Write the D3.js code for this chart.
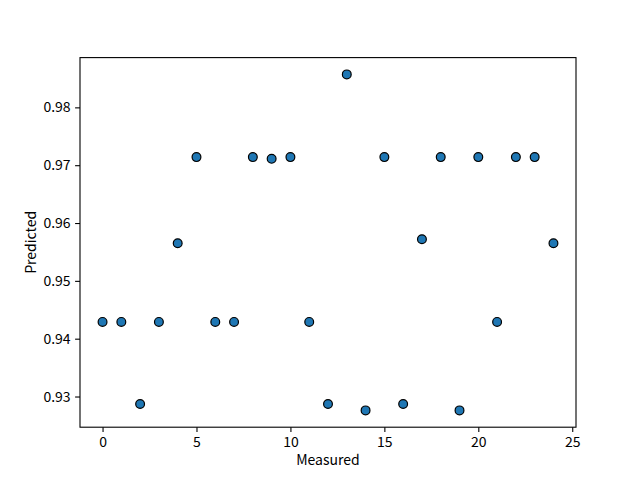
<!DOCTYPE html>
<html>
<head>
<meta charset="utf-8">
<script src="https://d3js.org/d3.v7.min.js"></script>
<style>
  body { margin: 0; background: #fff; }
  text { font-family: "Noto Sans CJK SC", sans-serif; }
</style>
</head>
<body>
<div id="chart"></div>
<script>
var measured = d3.range(0, 25);
var predicted = [0.9429, 0.9429, 0.9287, 0.9429, 0.9565, 0.9714, 0.9429, 0.9429, 0.9714, 0.9711,
  0.9714, 0.9429, 0.9287, 0.9857, 0.9276, 0.9714, 0.9287, 0.9572, 0.9714, 0.9276,
  0.9714, 0.9429, 0.9714, 0.9714, 0.9565];
var xTicks = [0, 5, 10, 15, 20, 25];
var yTicks = [0.93, 0.94, 0.95, 0.96, 0.97, 0.98];

(function() {
var width = 640,
  height = 480;
var mLeft = 80, mRight = 576, mTop = 57.6, mBottom = 427.2;

var svg = d3.select("#chart")
  .append("svg")
  .attr("width", width)
  .attr("height", height)

var points = measured.map(function(m, i) { return {x: m, y: predicted[i]}; });

// matplotlib style 5% margins
var xExt = d3.extent(measured), yExt = d3.extent(predicted);
var xPad = (xExt[1] - xExt[0]) * 0.05, yPad = (yExt[1] - yExt[0]) * 0.05;

var x = d3.scaleLinear().domain([xExt[0] - xPad, xExt[1] + xPad]).range([mLeft, mRight]);
var y = d3.scaleLinear().domain([yExt[0] - yPad, yExt[1] + yPad]).range([mBottom, mTop]);

var xAxis = svg.append("g")
  .attr("transform", "translate(0," + mBottom + ")")
  .call(d3.axisBottom(x).tickValues(xTicks).tickSize(4.9).tickPadding(4.5).tickFormat(d3.format("d")));

var yAxis = svg.append("g")
  .attr("transform", "translate(" + mLeft + ",0)")
  .call(d3.axisLeft(y).tickValues(yTicks).tickSize(4.9).tickPadding(4.5).tickFormat(d3.format(".2f")));

[xAxis, yAxis].forEach(function(g) {
  g.select(".domain").remove();
  g.selectAll(".tick line").attr("stroke", "#000").attr("stroke-width", 1.1);
  g.selectAll(".tick text").attr("fill", "#000").style("font-size", "14px");
});

svg.append("rect")
  .attr("x", mLeft)
  .attr("y", mTop)
  .attr("width", mRight - mLeft)
  .attr("height", mBottom - mTop)
  .attr("fill", "none")
  .attr("stroke", "#000")
  .attr("stroke-width", 1.1)

svg.selectAll(".pt")
  .data(points)
  .enter().append("circle")
  .attr("class", "pt")
  .attr("cx", function(d) { return x(d.x); })
  .attr("cy", function(d) { return y(d.y); })
  .attr("r", 4.4)
  .attr("fill", "#1f77b4")
  .attr("stroke", "#000")
  .attr("stroke-width", 1.2)

svg.append("text")
  .attr("x", (mLeft + mRight) / 2)
  .attr("y", 465)
  .attr("text-anchor", "middle")
  .style("font-size", "14px")
  .text("Measured")

svg.append("text")
  .attr("transform", "translate(36," + (mTop + mBottom) / 2 + ") rotate(-90)")
  .attr("text-anchor", "middle")
  .style("font-size", "14px")
  .text("Predicted")
})();
</script>
</body>
</html>
